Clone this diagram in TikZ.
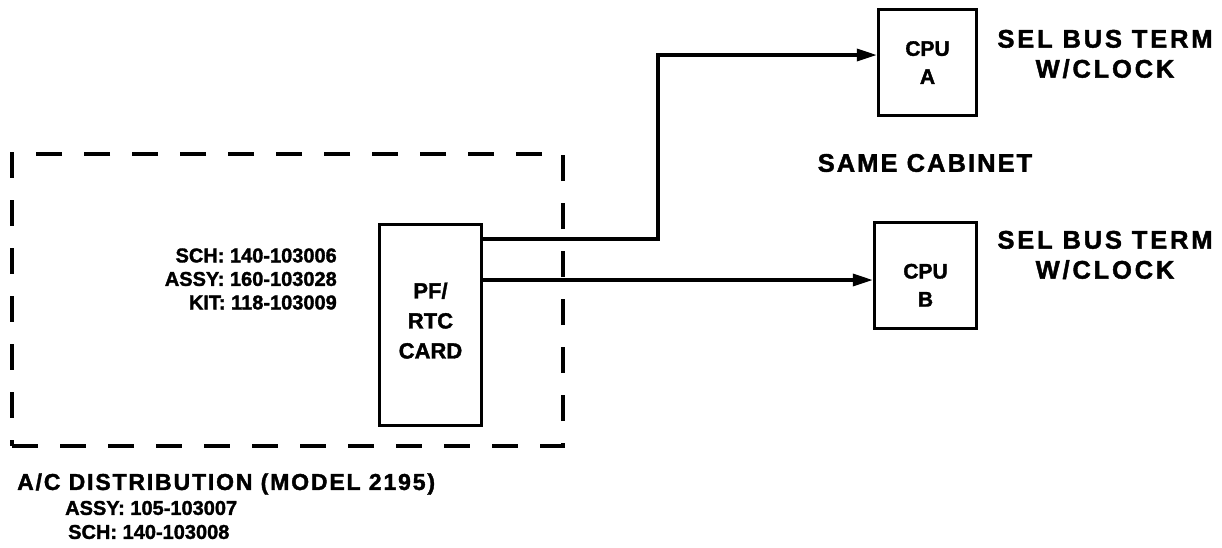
\documentclass[tikz,border=0pt]{standalone}
\usepackage{fontspec}
\setmainfont{Liberation Sans}[BoldFeatures={FakeBold=1.6}]
\newfontfamily\widefont{Liberation Sans}[LetterSpace=8, BoldFeatures={FakeBold=1.6}]
\newfontfamily\widerfont{Liberation Sans}[LetterSpace=11, BoldFeatures={FakeBold=1.6}]
\usetikzlibrary{positioning, calc, arrows.meta}
\tikzset{
  % Boxes
  cardbox/.style   = { draw, line width=3.4pt, align=center, inner sep=0,
                        font=\bfseries\fontsize{22}{30}\selectfont },
  cpubox/.style    = { draw, line width=3.4pt, align=center, inner sep=0,
                        font=\bfseries\fontsize{21}{28}\selectfont },
  regionbox/.style = { draw, line width=3.2pt, dash pattern=on 26pt off 22pt },
  % Wires
  busline/.style   = { line width=3.4pt, -{Triangle[length=20pt,width=12pt]} },
  % Texts
  partlabel/.style = { font=\bfseries\fontsize{20}{23.5}\selectfont, inner sep=0 },
  termlabel/.style = { font=\widerfont\bfseries\fontsize{25.5}{30}\selectfont,
                        align=center, inner sep=0 },
  cablabel/.style  = { font=\widefont\bfseries\fontsize{25.5}{30}\selectfont, inner sep=0 },
  distlabel/.style = { font=\widefont\bfseries\fontsize{23}{26}\selectfont, inner sep=0 }
}
\begin{document}
\begin{tikzpicture}[x=1pt, y=-1pt]
  \useasboundingbox (0,0) rectangle (1222,547);

  % A/C distribution region
  \node[regionbox, minimum width=551pt, minimum height=292pt] (acdist) at (287.5,300) {};
  \node[cardbox, minimum width=102pt, minimum height=201pt, text depth=9pt]
    (card) at (430.5,325) {PF/\\RTC\\CARD};
  \node[partlabel, align=right, anchor=east] (cardparts) at (337,279)
    {SCH: 140-103006\\ASSY: 160-103028\\KIT: 118-103009};

  \node[distlabel, anchor=west] (disttitle) at (17,484) {A/C DISTRIBUTION (MODEL 2195)};
  \node[partlabel, anchor=west] (distassy) at (65,508) {ASSY: 105-103007};
  \node[partlabel, anchor=west] (distsch) at (68,532) {SCH: 140-103008};

  % CPUs in the same cabinet
  \node[cpubox, minimum width=98pt, minimum height=106pt] (cpuA) at (927.5,62.5) {CPU\\A};
  \node[cpubox, minimum width=102pt, minimum height=106pt, text height=62pt]
    (cpuB) at (925.5,275.5) {CPU\\B};
  \node[termlabel] (termA) at (1105,54) {SEL BUS TERM\\W/CLOCK};
  \node[termlabel] (termB) at (1105,255) {SEL BUS TERM\\W/CLOCK};
  \node[cablabel] (cabinet) at (925,163) {SAME CABINET};

  % Wires
  \coordinate (tapA) at (658,239);
  \draw[busline] (card.east |- tapA) -- (tapA) |- ([yshift=7.5pt]cpuA.west);
  \draw[busline] (card.east |- 0,280) -- ([yshift=-4.5pt]cpuB.west);

\end{tikzpicture}
\end{document}
